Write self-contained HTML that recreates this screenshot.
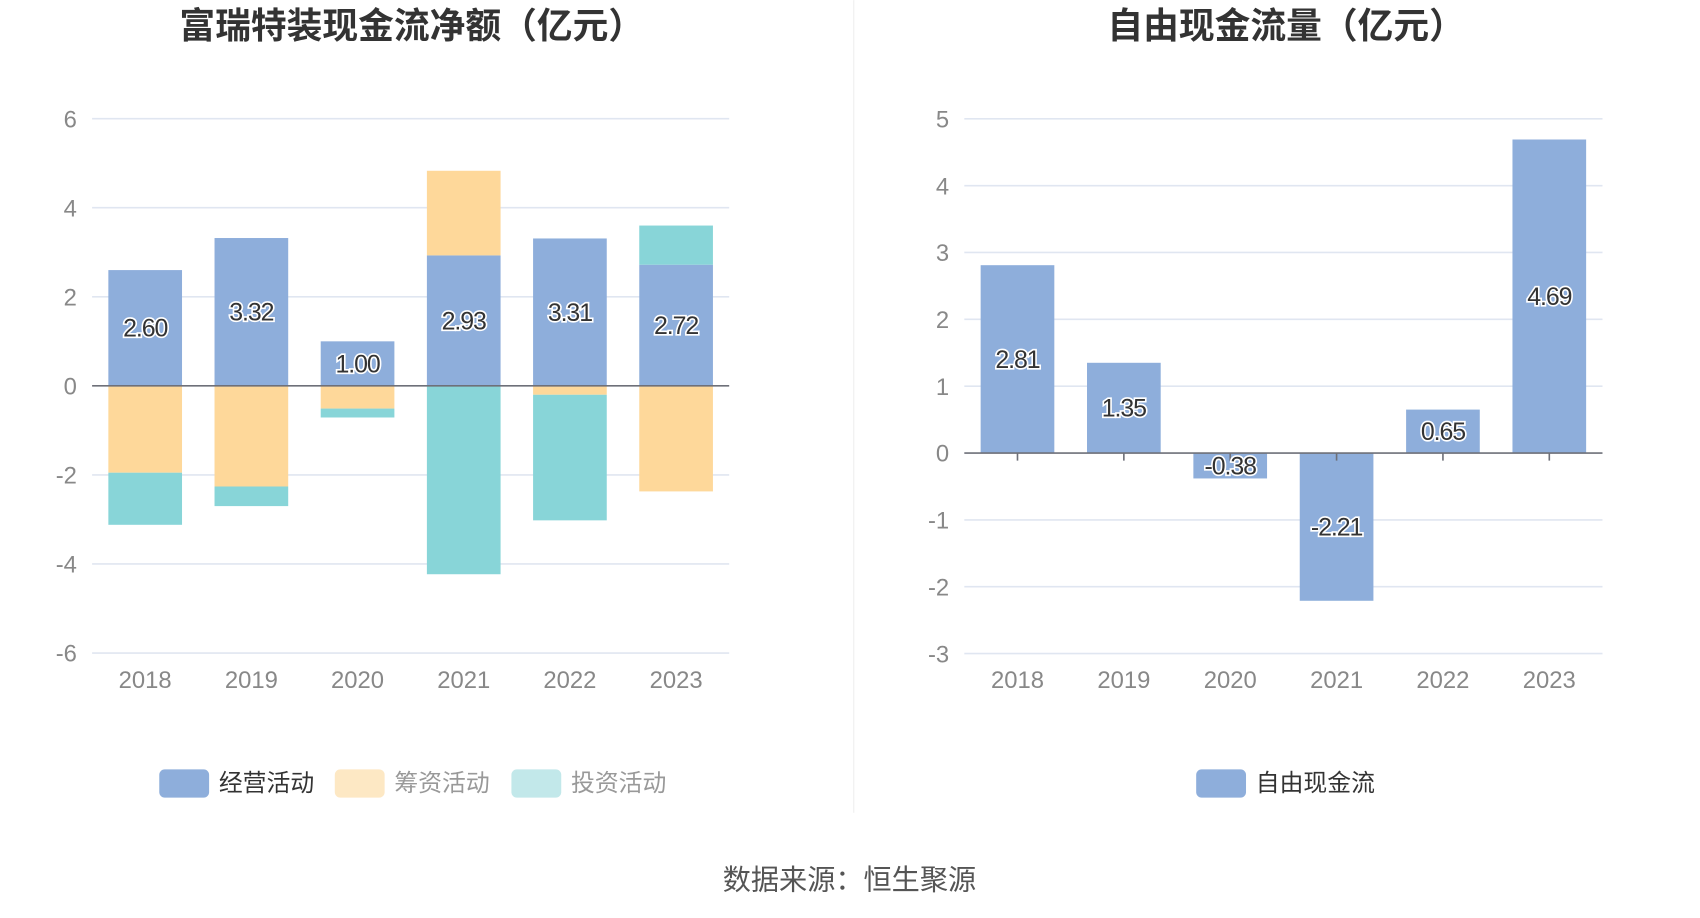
<!DOCTYPE html>
<html><head><meta charset="utf-8"><style>
html,body{margin:0;padding:0;background:#fff;}
svg{display:block;font-family:"Liberation Sans","Noto Sans CJK SC",sans-serif;}
</style></head><body>
<svg id="svg" width="1700" height="918" viewBox="0 0 1569 847">
<text x="380" y="35" text-anchor="middle" font-size="33" font-weight="bold" fill="#333">富瑞特装现金流净额（亿元）</text>
<text x="1187" y="35" text-anchor="middle" font-size="33" font-weight="bold" fill="#333">自由现金流量（亿元）</text>
<line x1="788" y1="0" x2="788" y2="750" stroke="#eee" stroke-width="1"/>
<g id="left"></g>
<g id="right"></g>
<g>
<rect x="147" y="710" width="46" height="26" rx="5" fill="#8eaedb"/>
<text x="202" y="730" font-size="22" fill="#333">经营活动</text>
<rect x="309" y="710" width="46" height="26" rx="5" fill="#fde8c4"/>
<text x="364" y="730" font-size="22" fill="#999">筹资活动</text>
<rect x="472" y="710" width="46" height="26" rx="5" fill="#c2e8ea"/>
<text x="527" y="730" font-size="22" fill="#999">投资活动</text>
</g>
<g>
<rect x="1104" y="710" width="46" height="26" rx="5" fill="#8eaedb"/>
<text x="1159" y="730" font-size="22" fill="#333">自由现金流</text>
</g>
<text x="784" y="821" text-anchor="middle" font-size="26" fill="#555">数据来源：恒生聚源</text>
</svg>
<script>
const years = ['2018','2019','2020','2021','2022','2023'];
const operating = [2.60, 3.32, 1.00, 2.93, 3.31, 2.72];
const financing = [-1.95, -2.26, -0.51, 1.90, -0.20, -2.37];
const investing = [-1.17, -0.44, -0.20, -4.23, -2.82, 0.88];
const leftTicks = [6, 4, 2, 0, -2, -4, -6];
const fcf = [2.81, 1.35, -0.38, -2.21, 0.65, 4.69];
const rightTicks = [5, 4, 3, 2, 1, 0, -1, -2, -3];

const NS = 'http://www.w3.org/2000/svg';
function mk(parent, tag, attrs, text) {
  const e = document.createElementNS(NS, tag);
  for (const k in attrs) e.setAttribute(k, attrs[k]);
  if (text !== undefined) e.textContent = text;
  parent.appendChild(e);
  return e;
}

function axes(g, x0, x1, yScale, ticks, prefix) {
  ticks.forEach(t => {
    const y = yScale(t);
    if (t !== 0) {
      const l = mk(g, 'line', {x1: x0, x2: x1, y1: y, y2: y, stroke: '#e0e6f1', 'stroke-width': 1.5});
      
      
    }
    const tx = mk(g, 'text', {x: x0 - 14, y: y + 8, 'text-anchor': 'end', 'font-size': 22, fill: '#888'}, String(t));
    
    
  });
}
function valueLabel(g, x, y, txt, prefix) {
  const t = mk(g, 'text', {x: x, y: y + 8, 'text-anchor': 'middle', 'font-size': 23, fill: '#333', stroke: '#fff', 'stroke-width': 3, 'paint-order': 'stroke', 'letter-spacing': '-1'}, txt);
  
  
}

// Left chart
(function(){
  const g = document.getElementById('left');
  const x0 = 85, x1 = 673, band = (x1 - x0) / years.length, bw = 68;
  const y = v => 356 - v * 41.1;
  axes(g, x0, x1, y, leftTicks, 'left');
  const colors = ['#8eaedb', '#fed89a', '#88d5d8'];
  const names = ['operating', 'financing', 'investing'];
  const series = [operating, financing, investing];
  years.forEach((yr, i) => {
    const cx = x0 + band * (i + 0.5);
    let pos = 0, neg = 0;
    series.forEach((s, k) => {
      const v = s[i];
      let a, b;
      if (v >= 0) { a = pos; b = pos + v; pos = b; } else { a = neg; b = neg + v; neg = b; }
      const top = Math.min(y(a), y(b)), h = Math.abs(y(a) - y(b));
      const r = mk(g, 'rect', {x: cx - bw / 2, y: top, width: bw, height: h, fill: colors[k]});
      
      
    });
    const xl = mk(g, 'text', {x: cx, y: 635, 'text-anchor': 'middle', 'font-size': 22, fill: '#888'}, yr);
    
    
  });
  const ax = mk(g, 'line', {x1: x0, x2: x1, y1: y(0), y2: y(0), stroke: '#6e7079', 'stroke-width': 1.5});
  
  
  years.forEach((yr, i) => {
    const cx = x0 + band * (i + 0.5);
    valueLabel(g, cx, y(operating[i] / 2), operating[i].toFixed(2), 'left');
  });
})();

// Right chart
(function(){
  const g = document.getElementById('right');
  const x0 = 890, x1 = 1479, band = (x1 - x0) / years.length, bw = 68;
  const y = v => 418 - v * 61.7;
  axes(g, x0, x1, y, rightTicks, 'right');
  years.forEach((yr, i) => {
    const cx = x0 + band * (i + 0.5);
    const v = fcf[i];
    const r = mk(g, 'rect', {x: cx - bw / 2, y: Math.min(y(0), y(v)), width: bw, height: Math.abs(y(v) - y(0)), fill: '#8eaedb'});
    
    
    const tk = mk(g, 'line', {x1: cx, x2: cx, y1: y(0), y2: y(0) + 7, stroke: '#6e7079', 'stroke-width': 1.5});
    
    
    const xl = mk(g, 'text', {x: cx, y: 635, 'text-anchor': 'middle', 'font-size': 22, fill: '#888'}, yr);
    
    
  });
  const ax = mk(g, 'line', {x1: x0, x2: x1, y1: y(0), y2: y(0), stroke: '#6e7079', 'stroke-width': 1.5});
  
  
  years.forEach((yr, i) => {
    const cx = x0 + band * (i + 0.5);
    valueLabel(g, cx, y(fcf[i] / 2), fcf[i].toFixed(2), 'right');
  });
})();
</script>
</body></html>
